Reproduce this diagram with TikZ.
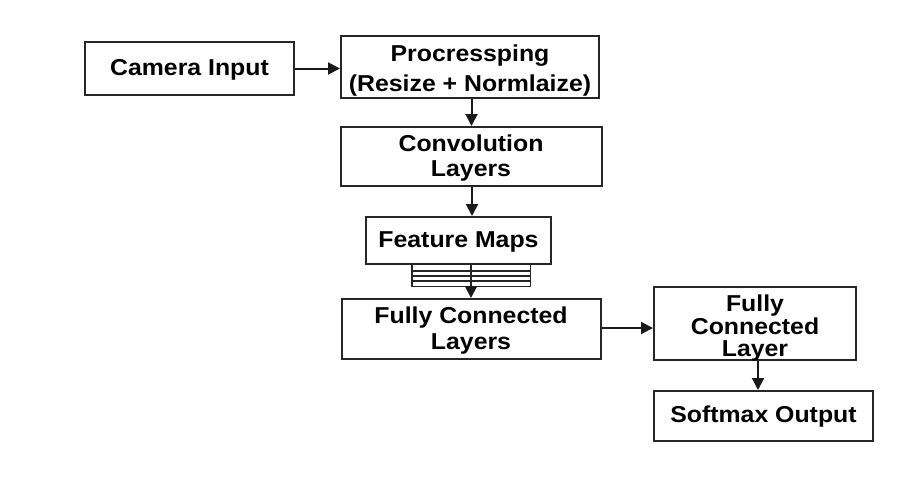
\documentclass[tikz,border=0pt]{standalone}
\usepackage{fontspec}
\setmainfont{Liberation Sans}[FakeStretch=1.08]
\usetikzlibrary{arrows.meta}
\begin{document}
\begin{tikzpicture}[x=1pt,y=-1pt,
  box/.style={draw=black!85, line width=2pt, rectangle, inner sep=0pt},
  txt/.style={inner sep=0pt, align=center, font=\fontsize{23}{25}\selectfont\bfseries},
  arr/.style={line width=2pt, draw=black!90, -{Triangle[length=12pt,width=12pt]}},
  ln/.style={line width=1.4pt, draw=black!85}]
\useasboundingbox[fill=white] (0,0) rectangle (920,488);
% boxes
\node[box, minimum width=209pt, minimum height=53pt] (cam) at (189.5,68.5) {};
\node[box, minimum width=258pt, minimum height=62pt] (proc) at (470,67) {};
\node[box, minimum width=261pt, minimum height=59pt] (conv) at (471,156.5) {};
\node[box, minimum width=185pt, minimum height=47pt] (feat) at (458.5,240.5) {};
\node[draw=none, minimum width=118pt, minimum height=22pt, inner sep=0pt] (stack) at (471,275) {};
\node[box, minimum width=259pt, minimum height=60pt] (fcl) at (471.5,329) {};
\node[box, minimum width=202pt, minimum height=73pt] (fc1) at (755,323.5) {};
\node[box, minimum width=219pt, minimum height=50pt] (soft) at (763.5,416) {};
% texts
\node[txt] (camT) at (189.5,69.5) {Camera Input};
\node[txt, font=\fontsize{23}{30}\selectfont\bfseries] (procT) at (470,71) {Procressping\\(Resize + Normlaize)};
\node[txt] (convT) at (471,158) {Convolution\\Layers};
\node[txt] (featT) at (458.5,242) {Feature Maps};
\node[txt, font=\fontsize{23}{26}\selectfont\bfseries] (fclT) at (471,330.5) {Fully Connected\\Layers};
\node[txt, font=\fontsize{23}{22.5}\selectfont\bfseries] (fc1T) at (755,328.5) {Fully\\Connected\\Layer};
\node[txt] (softT) at (763.5,416.5) {Softmax Output};
% stack of lines below feature maps
\draw[ln] (stack.north west) -- (stack.south west) -- (stack.south east) -- (stack.north east);
\draw[ln] ([yshift=-7pt]stack.north west) -- ([yshift=-7pt]stack.north east);
\draw[ln] ([yshift=-12pt]stack.north west) -- ([yshift=-12pt]stack.north east);
\draw[ln] ([yshift=-17pt]stack.north west) -- ([yshift=-17pt]stack.north east);
\draw[ln] (stack.north) -- (stack.south);
% connectors
\draw[arr] (cam.east) -- (cam.east -| proc.west);
\draw[arr] ([xshift=1.5pt]proc.south) -- ([xshift=1.5pt]proc.south |- conv.north);
\draw[arr] ([xshift=1pt]conv.south) -- ([xshift=1pt]conv.south |- feat.north);
\draw[arr] (stack.south) -- (stack.south |- fcl.north);
\draw[arr] ([yshift=1pt]fcl.east) -- ([yshift=1pt]fcl.east -| fc1.west);
\draw[arr] ([xshift=3pt]fc1.south) -- ([xshift=3pt]fc1.south |- soft.north);
\end{tikzpicture}
\end{document}
